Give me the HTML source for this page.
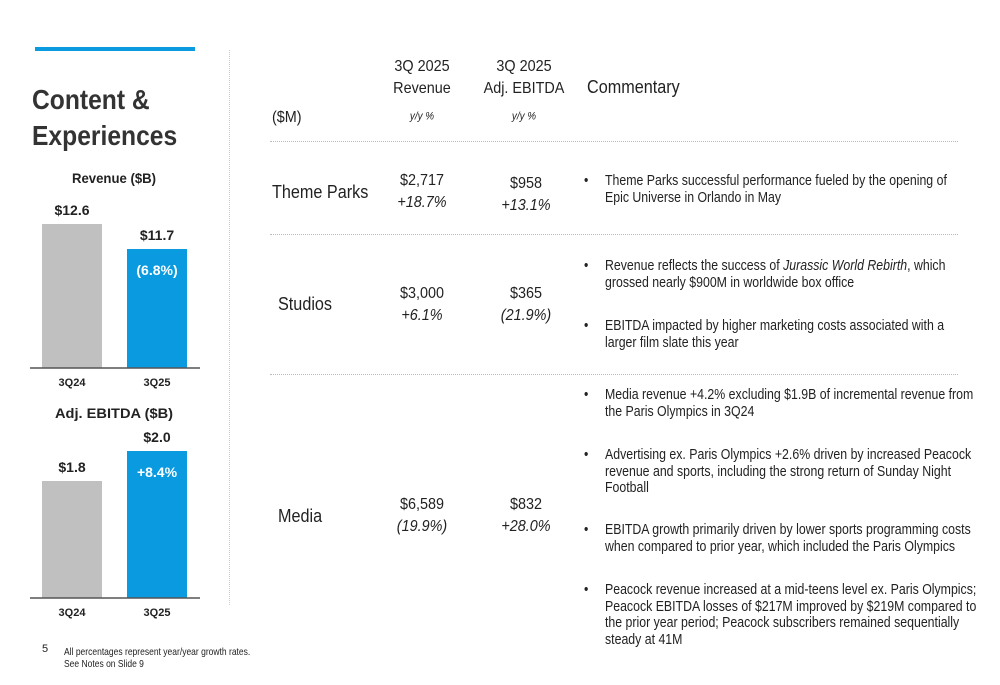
<!DOCTYPE html>
<html><head><meta charset="utf-8"><style>
body{margin:0;background:#fff;}
#p{position:relative;width:1000px;height:685px;overflow:hidden;font-family:"Liberation Sans",Arial,sans-serif;color:#222;}
.t{position:absolute;white-space:nowrap;line-height:1;}
.c{transform:translate(-50%,-50%) scaleX(0.9);}
.l{transform:translateY(-50%) scaleX(0.9);transform-origin:left center;}
.n{transform:translateY(-50%) scaleX(0.85);transform-origin:left center;font-size:14.5px;}
.hr{position:absolute;left:270px;width:688px;border-top:1px dotted #bbb;}
</style></head><body>
<div id="p">
<div style="position:absolute;left:35px;top:47px;width:160px;height:4px;background:#0a9ae0"></div>
<div class="t" style="left:32px;top:82px;font-size:28px;font-weight:bold;line-height:36px;transform:scaleX(0.88);transform-origin:left top;color:#333">Content &amp;<br>Experiences</div>
<div style="position:absolute;left:229px;top:50px;height:555px;border-left:1px dotted #ccc"></div>
<svg id="charts" width="240" height="685" style="position:absolute;left:0;top:0"></svg>

<div class="t c" style="left:422px;top:67px;font-size:16px">3Q 2025</div>
<div class="t c" style="left:422px;top:89px;font-size:16px">Revenue</div>
<div class="t c" style="left:422px;top:117px;font-size:11px;font-style:italic">y/y %</div>
<div class="t c" style="left:524px;top:67px;font-size:16px">3Q 2025</div>
<div class="t c" style="left:524px;top:89px;font-size:16px">Adj. EBITDA</div>
<div class="t c" style="left:524px;top:117px;font-size:11px;font-style:italic">y/y %</div>
<div class="t l" style="left:587px;top:87px;font-size:18px">Commentary</div>
<div class="t l" style="left:272px;top:118px;font-size:16px">($M)</div>
<div class="hr" style="top:141px"></div>
<div class="hr" style="top:234px"></div>
<div class="hr" style="top:374px"></div>

<div class="t l" style="left:272px;top:192px;font-size:18px">Theme Parks</div>
<div class="t c" style="left:422px;top:181px;font-size:16px">$2,717</div>
<div class="t c" style="left:422px;top:203px;font-size:16px;font-style:italic">+18.7%</div>
<div class="t c" style="left:526px;top:184px;font-size:16px">$958</div>
<div class="t c" style="left:526px;top:206px;font-size:16px;font-style:italic">+13.1%</div>

<div class="t l" style="left:278px;top:304px;font-size:18px">Studios</div>
<div class="t c" style="left:422px;top:294px;font-size:16px">$3,000</div>
<div class="t c" style="left:422px;top:316px;font-size:16px;font-style:italic">+6.1%</div>
<div class="t c" style="left:526px;top:294px;font-size:16px">$365</div>
<div class="t c" style="left:526px;top:316px;font-size:16px;font-style:italic">(21.9%)</div>

<div class="t l" style="left:278px;top:516px;font-size:18px">Media</div>
<div class="t c" style="left:422px;top:505px;font-size:16px">$6,589</div>
<div class="t c" style="left:422px;top:527px;font-size:16px;font-style:italic">(19.9%)</div>
<div class="t c" style="left:526px;top:505px;font-size:16px">$832</div>
<div class="t c" style="left:526px;top:527px;font-size:16px;font-style:italic">+28.0%</div>

<div id="comm"></div>

<div class="t" style="left:42px;top:644px;font-size:11px">5</div>
<div class="t" style="left:64px;top:646px;font-size:10.5px;line-height:12px;transform:scaleX(0.81);transform-origin:left top">All percentages represent year/year growth rates.<br>See Notes on Slide 9</div>
</div>
<script>
const categories=["3Q24","3Q25"];
const revenueValues=[12.6,11.7];
const revenueLabels=["$12.6","$11.7"];
const ebitdaValues=[1.8,2.0];
const ebitdaLabels=["$1.8","$2.0"];
const growthLabels=["(6.8%)","+8.4%"];
const NS="http://www.w3.org/2000/svg";
const svg=document.getElementById('charts');
function mk(tag,a,txt){const e=document.createElementNS(NS,tag);for(const k in a)e.setAttribute(k,a[k]);if(txt!==undefined)e.textContent=txt;svg.appendChild(e);return e;}
function chart(vals,labels,growth,base,min,scale,title,titleY,nm){
  const x=i=>42+i*85;
  const y=v=>base-(v-min)*scale;
  const t=mk('text',{x:114,y:titleY,'text-anchor':'middle','font-size':14,'font-weight':'bold',fill:'#222','textLength':title.length>12?118:84,'lengthAdjust':'spacingAndGlyphs'},title);
  
  vals.forEach((v,i)=>{
    const r=mk('rect',{x:x(i),y:y(v),width:60,height:base-y(v),fill:i?'#0a9ae0':'#c0c0c0'});
    
    
    const l=mk('text',{x:x(i)+30,y:y(v)-9,'text-anchor':'middle','font-size':14,'font-weight':'bold',fill:'#222'},labels[i]);
    
    
    const c=mk('text',{x:x(i)+30,y:base+18,'text-anchor':'middle','font-size':11,'font-weight':'bold',fill:'#222'},categories[i]);
    
    
  });
  const g=mk('text',{x:x(1)+30,y:y(vals[1])+26,'text-anchor':'middle','font-size':14,'font-weight':'bold',fill:'#fff'},growth);
  
  
  const a=mk('line',{x1:30,x2:200,y1:base,y2:base,stroke:'#555','stroke-width':1.5});
  
  
}
chart(revenueValues,revenueLabels,growthLabels[0],368,7.42,27.8,'Revenue ($B)',183,'revenue');
chart(ebitdaValues,ebitdaLabels,growthLabels[1],598,1.02,150,'Adj. EBITDA ($B)',418,'ebitda');

const comm=[
 [181,["Theme Parks successful performance fueled by the opening of","Epic Universe in Orlando in May"]],
 [266,["Revenue reflects the success of <i>Jurassic World Rebirth</i>, which","grossed nearly $900M in worldwide box office"]],
 [326,["EBITDA impacted by higher marketing costs associated with a","larger film slate this year"]],
 [395,["Media revenue +4.2% excluding $1.9B of incremental revenue from","the Paris Olympics in 3Q24"]],
 [455,["Advertising ex. Paris Olympics +2.6% driven by increased Peacock","revenue and sports, including the strong return of Sunday Night","Football"]],
 [530,["EBITDA growth primarily driven by lower sports programming costs","when compared to prior year, which included the Paris Olympics"]],
 [590,["Peacock revenue increased at a mid-teens level ex. Paris Olympics;","Peacock EBITDA losses of $217M improved by $219M compared to","the prior year period; Peacock subscribers remained sequentially","steady at 41M"]]
];
const host=document.getElementById('comm');
comm.forEach(([y0,lines])=>{
  const b=document.createElement('div');
  b.className='t n';b.style.left='584px';b.style.top=y0+'px';b.textContent='•';
  
  
  host.appendChild(b);
  lines.forEach((s,i)=>{
    const d=document.createElement('div');
    d.className='t n';d.style.left='605px';d.style.top=(y0+i*16.5)+'px';d.innerHTML=s;
    
    
    host.appendChild(d);
  });
});
</script>
</body></html>
